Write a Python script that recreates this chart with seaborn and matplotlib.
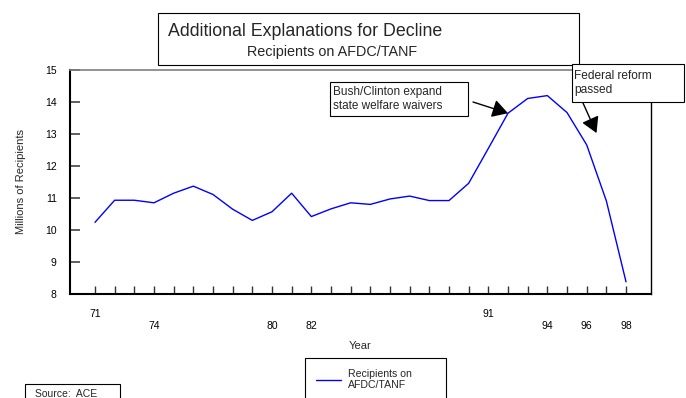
import matplotlib
matplotlib.use("Agg")
import matplotlib.pyplot as plt
from matplotlib.patches import Rectangle
import seaborn as sns
import pandas as pd

# Recipients on AFDC/TANF, millions, by fiscal year (two-digit years)
years = list(range(71, 99))
recipients = [10.24, 10.93, 10.93, 10.85, 11.15, 11.37, 11.11, 10.65, 10.30, 10.57,
              11.15, 10.42, 10.66, 10.85, 10.80, 10.97, 11.06, 10.92, 10.92, 11.46,
              12.55, 13.65, 14.11, 14.20, 13.67, 12.66, 10.91, 8.38]

# Year labels shown on the axis, in two staggered rows
upper_row_years = [71, 91]
lower_row_years = [74, 80, 82, 94, 96, 98]
y_ticks = [8, 9, 10, 11, 12, 13, 14, 15]

title = "Additional Explanations for Decline"
subtitle = "Recipients on AFDC/TANF"
series_name = "Recipients on\nAFDC/TANF"
note_waivers = "Bush/Clinton expand\nstate welfare waivers"
note_reform = "Federal reform\npassed"
source_text = "Source:  ACE"

df = pd.DataFrame({"Year": years, series_name: recipients})

sns.set_theme(style="white")
plt.rcParams["font.family"] = ["Liberation Sans", "DejaVu Sans"]

W, H = 686, 398
fig = plt.figure(figsize=(W / 100, H / 100), dpi=100)


def fx(px):
    return px / W


def fy(py):
    return 1 - py / H


ax = fig.add_axes([fx(70), fy(294), fx(651) - fx(70), fy(70) - fy(294)])

sns.lineplot(data=df, x="Year", y=series_name, ax=ax, color="#0000ff",
             linewidth=1.0, label=series_name, legend=False)

ax.set_xlim(69.73, 99.27)
ax.set_ylim(8, 15)
ax.set_yticks(y_ticks)
ax.set_yticklabels([str(v) for v in y_ticks])

# Every year gets a tick; only some are labelled, on two rows
ax.xaxis.remove_overlapping_locs = False
ax.set_xticks(years)
ax.set_xticklabels([str(y) if y in upper_row_years else "" for y in years])
ax.set_xticks(lower_row_years, minor=True)
ax.set_xticklabels([str(y) for y in lower_row_years], minor=True)

ax.tick_params(axis="x", which="major", direction="in", length=6, width=1.0,
               color="#333333", pad=11, labelsize=7.5, labelcolor="black",
               bottom=True)
ax.tick_params(axis="x", which="minor", direction="in", length=0, pad=19.5,
               labelsize=7.5, labelcolor="black", bottom=True)
ax.tick_params(axis="y", direction="in", length=7, width=1.2, color="#444444",
               pad=9.5, labelsize=7.5, labelcolor="black", left=True)

ax.set_xlabel("Year", fontsize=8, labelpad=7)
ax.set_ylabel("Millions of Recipients", fontsize=8, labelpad=14)
ax.grid(False)

for side in ["left", "bottom"]:
    ax.spines[side].set_color("black")
    ax.spines[side].set_linewidth(1.5)
ax.spines["right"].set_color("black")
ax.spines["right"].set_linewidth(1.0)
ax.spines["top"].set_color("#808080")
ax.spines["top"].set_linewidth(1.2)

# Title panel
fig.patches.append(Rectangle((fx(158), fy(65)), fx(579) - fx(158), fy(13) - fy(65),
                             transform=fig.transFigure, facecolor="white",
                             edgecolor="black", linewidth=0.8, zorder=5))
fig.text(fx(168), fy(31), title, fontsize=12.8, ha="left", va="center", zorder=6)
fig.text(fx(247), fy(52), subtitle, fontsize=10.4, ha="left", va="center", zorder=6)

# Annotation boxes
fig.patches.append(Rectangle((fx(330), fy(116)), fx(468) - fx(330), fy(82) - fy(116),
                             transform=fig.transFigure, facecolor="white",
                             edgecolor="black", linewidth=0.8, zorder=5))
fig.text(fx(333), fy(99), note_waivers, fontsize=8.5, ha="left", va="center",
         linespacing=1.15, zorder=6)

fig.patches.append(Rectangle((fx(572), fy(102)), fx(684) - fx(572), fy(64) - fy(102),
                             transform=fig.transFigure, facecolor="white",
                             edgecolor="black", linewidth=0.8, zorder=7))
fig.text(fx(574), fy(83), note_reform, fontsize=8.6, ha="left", va="center",
         linespacing=1.15, zorder=8)

arrow = dict(arrowstyle="-|>,head_length=0.95,head_width=0.55", mutation_scale=10,
             color="black", linewidth=1.0, shrinkA=0, shrinkB=0)
ax.annotate("", xy=(92, recipients[years.index(92)]), xycoords="data",
            xytext=(473, H - 102), textcoords="figure pixels",
            arrowprops=arrow, annotation_clip=False)
ax.annotate("", xy=(96.5, 13.03), xycoords="data",
            xytext=(583, H - 103), textcoords="figure pixels",
            arrowprops=arrow, annotation_clip=False)

# Legend below the axis
handles, labels = ax.get_legend_handles_labels()
fig.legend(handles, labels, loc="upper left",
           bbox_to_anchor=(fx(305), fy(358), fx(446) - fx(305), 0),
           mode="expand", frameon=True, fancybox=False, edgecolor="black",
           framealpha=1, fontsize=7.6, borderpad=1.0, handlelength=2.4,
           handletextpad=0.7, borderaxespad=0).get_frame().set_linewidth(0.8)

# Source note
fig.patches.append(Rectangle((fx(25), fy(410)), fx(120) - fx(25), fy(384) - fy(410),
                             transform=fig.transFigure, facecolor="white",
                             edgecolor="black", linewidth=0.8))
fig.text(fx(35), fy(389), source_text, fontsize=7.5, ha="left", va="top")

fig.savefig("out.png", dpi=100)
